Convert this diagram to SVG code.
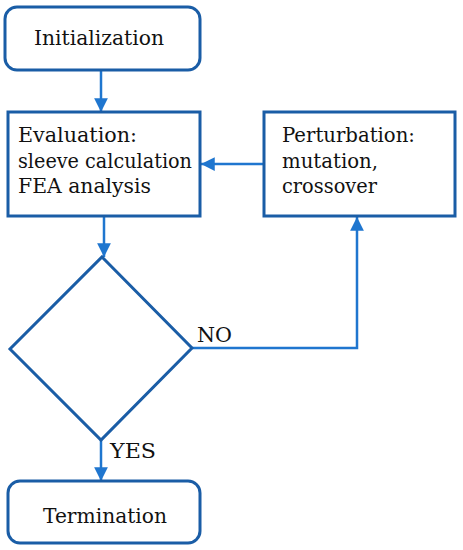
<svg xmlns="http://www.w3.org/2000/svg" width="463" height="550" viewBox="0 0 463 550">
<style>
.box{fill:#fff;stroke:#1a5da6;stroke-width:3}
.t{font-family:'DejaVu Serif','Liberation Serif',serif;font-size:20px;fill:#111}
.c{fill:none;stroke:#1f76cf;stroke-width:2.5}
</style>
<defs>
<marker id="a" viewBox="0 0 10 10" refX="10" refY="5" markerWidth="5.5" markerHeight="5.5" orient="auto" markerUnits="strokeWidth">
<path d="M0,0L10,5L0,10z" fill="#1f76cf"/>
</marker>
</defs>
<rect width="463" height="550" fill="#fff"/>
<g id="connectors">
<path class="c" d="M101,70V112" marker-end="url(#a)"/>
<path class="c" d="M264,164H201" marker-end="url(#a)"/>
<path class="c" d="M104,216V257" marker-end="url(#a)"/>
<path class="c" d="M192,348H357V217" marker-end="url(#a)"/>
<path class="c" d="M101,440V481" marker-end="url(#a)"/>
<text class="t" x="197" y="342" textLength="35" lengthAdjust="spacingAndGlyphs">NO</text>
<text class="t" x="110" y="458" textLength="46" lengthAdjust="spacingAndGlyphs">YES</text>
</g>
<g id="init">
<rect class="box" x="5" y="7" width="195" height="63" rx="12"/>
<text class="t" x="34" y="45" textLength="130" lengthAdjust="spacingAndGlyphs">Initialization</text>
</g>
<g id="eval">
<rect class="box" x="8" y="112" width="192" height="104"/>
<text class="t" x="18" y="142" textLength="119" lengthAdjust="spacingAndGlyphs">Evaluation:</text>
<text class="t" x="18" y="168" textLength="174" lengthAdjust="spacingAndGlyphs">sleeve calculation</text>
<text class="t" x="18" y="193" textLength="133" lengthAdjust="spacingAndGlyphs">FEA analysis</text>
</g>
<g id="perturb">
<rect class="box" x="264" y="112" width="191" height="104"/>
<text class="t" x="282" y="142" textLength="133" lengthAdjust="spacingAndGlyphs">Perturbation:</text>
<text class="t" x="282" y="168" textLength="96" lengthAdjust="spacingAndGlyphs">mutation,</text>
<text class="t" x="282" y="193" textLength="95" lengthAdjust="spacingAndGlyphs">crossover</text>
</g>
<g id="decision">
<path class="box" d="M102,257L192,348L101,440L10,349Z"/>
</g>
<g id="term">
<rect class="box" x="8" y="481" width="192" height="62" rx="12"/>
<text class="t" x="43" y="523" textLength="124" lengthAdjust="spacingAndGlyphs">Termination</text>
</g>
</svg>
